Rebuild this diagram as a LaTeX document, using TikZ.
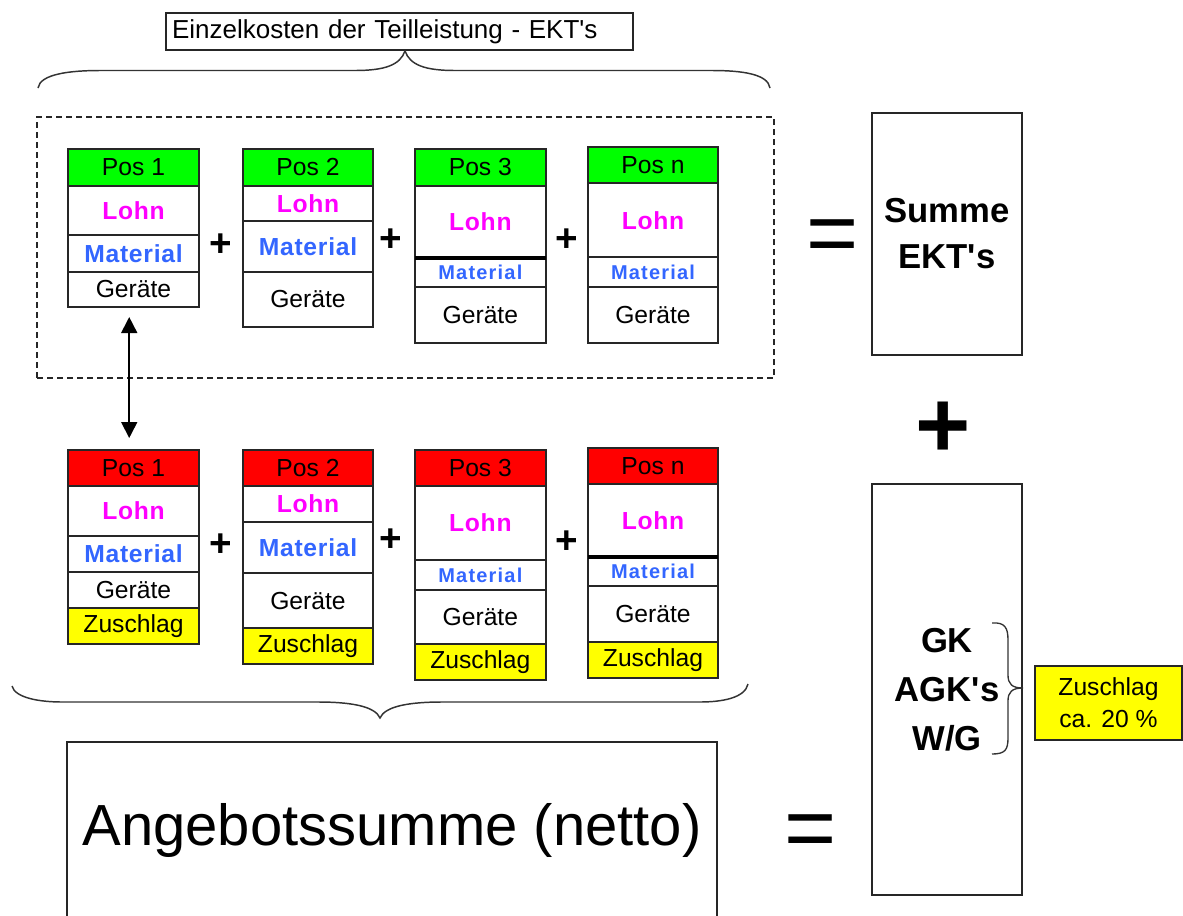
\documentclass[tikz,border=0pt]{standalone}
\usepackage{fontspec}
\setmainfont{Liberation Sans}
\newfontfamily\spfont[LetterSpace=3]{Liberation Sans}
\newfontfamily\spfontb[LetterSpace=6]{Liberation Sans}
\usetikzlibrary{arrows.meta}
\definecolor{lohnc}{RGB}{255,0,255}
\definecolor{matc}{RGB}{51,102,255}
\definecolor{posgreen}{RGB}{0,255,0}
\definecolor{posred}{RGB}{255,0,0}
\definecolor{zuyellow}{RGB}{255,255,0}
\newcommand\txtLohn{{\spfont\bfseries\fontsize{18.5}{20}\selectfont\color{lohnc}Lohn}}
\newcommand\txtMatL{{\spfont\bfseries\fontsize{18.5}{20}\selectfont\color{matc}Material}}
\newcommand\txtMatS{{\spfontb\bfseries\fontsize{15}{17}\selectfont\color{matc}Material}}
\newcommand\cellnode[7]{\node[cellbox, fill=#6, minimum width={(#3-#2)*0.75pt}, minimum height={(#5-#4)*0.75pt}] (#1) at ({(#2+#3)/2},{(#4+#5)/2}) {#7};}
\tikzset{
  cellbox/.style={draw=black!85, line width=1.5pt, inner sep=0pt, outer sep=0pt, text=black, font=\fontsize{18.5}{20}\selectfont},
  plussign/.style={inner sep=0pt, font=\bfseries\fontsize{29}{30}\selectfont},
  bigsign/.style={inner sep=0pt, font=\bfseries\fontsize{71}{72}\selectfont},
  eqsign/.style={inner sep=0pt, font=\fontsize{67}{68}\selectfont},
  bigbox/.style={draw=black!85, line width=1.1pt, inner sep=0pt, outer sep=0pt, align=center},
  bracepath/.style={draw=black!80, line width=1.1pt},
}
\begin{document}
\begin{tikzpicture}[x=0.75pt,y=-0.75pt]
\useasboundingbox (0,0) rectangle (1183,915);
\fill[white] (0,0) rectangle (1183,915);

% title
\node[draw=black!85, line width=1.1pt, minimum width=350.25pt, minimum height=27.75pt, text width=341.25pt, inner xsep=4.5pt, align=left, font=\fontsize{19.5}{21}\selectfont] (title) at (399.5,31.5) {Einzelkosten der Teilleistung - EKT\textquotesingle s};

% top brace
\draw[bracepath] (38,88) .. controls (40,74) and (70,70.5) .. (100,70.5) -- (355,70.5) .. controls (385,70.5) and (400,65) .. (405,51) .. controls (410,65) and (425,70.5) .. (455,70.5) -- (712,70.5) .. controls (742,70.5) and (768,74) .. (770,88);

% dashed group
\node[draw=black!85, dashed, dash pattern=on 4.5pt off 3pt, line width=1.2pt, minimum width={737*0.75pt}, minimum height={261*0.75pt}, inner sep=0pt] (ektgroup) at (405.5,247.5) {};

% top row
\cellnode{t1h}{68}{199}{149}{185.7}{posgreen}{Pos 1}
\cellnode{t1l}{68}{199}{185.7}{235}{white}{\txtLohn}
\cellnode{t1m}{68}{199}{235}{271.7}{white}{\txtMatL}
\cellnode{t1g}{68}{199}{271.7}{307.3}{white}{Geräte}

\cellnode{t2h}{243}{373}{149}{185.7}{posgreen}{Pos 2}
\cellnode{t2l}{243}{373}{185.7}{221}{white}{\txtLohn}
\cellnode{t2m}{243}{373}{221}{271.7}{white}{\txtMatL}
\cellnode{t2g}{243}{373}{271.7}{327.3}{white}{Geräte}

\cellnode{t3h}{415}{545.7}{149}{185.7}{posgreen}{Pos 3}
\cellnode{t3l}{415}{545.7}{185.7}{258.3}{white}{\txtLohn}
\cellnode{t3m}{415}{545.7}{258.3}{286.7}{white}{\txtMatS}
\cellnode{t3g}{415}{545.7}{286.7}{343.3}{white}{Geräte}
\draw[line width=3pt] (t3l.south west) -- (t3l.south east);

\cellnode{tnh}{588}{718}{146.7}{183.3}{posgreen}{Pos n}
\cellnode{tnl}{588}{718}{183.3}{257.3}{white}{\txtLohn}
\cellnode{tnm}{588}{718}{257.3}{287.3}{white}{\txtMatS}
\cellnode{tng}{588}{718}{287.3}{343.3}{white}{Geräte}

\node[plussign] (tp1) at (221,245) {+};
\node[plussign] (tp2) at (391,240) {+};
\node[plussign] (tp3) at (567,240) {+};

% bottom row
\cellnode{b1h}{68}{199}{450}{486}{posred}{Pos 1}
\cellnode{b1l}{68}{199}{486}{536}{white}{\txtLohn}
\cellnode{b1m}{68}{199}{536}{572.3}{white}{\txtMatL}
\cellnode{b1g}{68}{199}{572.3}{608.3}{white}{Geräte}
\cellnode{b1z}{68}{199}{608.3}{644.3}{zuyellow}{Zuschlag}

\cellnode{b2h}{243}{373}{450}{486}{posred}{Pos 2}
\cellnode{b2l}{243}{373}{486}{521.7}{white}{\txtLohn}
\cellnode{b2m}{243}{373}{521.7}{572.7}{white}{\txtMatL}
\cellnode{b2g}{243}{373}{572.7}{628.3}{white}{Geräte}
\cellnode{b2z}{243}{373}{628.3}{664.3}{zuyellow}{Zuschlag}

\cellnode{b3h}{415}{545.7}{450}{486}{posred}{Pos 3}
\cellnode{b3l}{415}{545.7}{486}{560}{white}{\txtLohn}
\cellnode{b3m}{415}{545.7}{560}{590}{white}{\txtMatS}
\cellnode{b3g}{415}{545.7}{590}{644}{white}{Geräte}
\cellnode{b3z}{415}{545.7}{644}{680}{zuyellow}{Zuschlag}

\cellnode{bnh}{588}{718}{448.3}{484.3}{posred}{Pos n}
\cellnode{bnl}{588}{718}{484.3}{556.7}{white}{\txtLohn}
\cellnode{bnm}{588}{718}{556.7}{586}{white}{\txtMatS}
\cellnode{bng}{588}{718}{586}{642.3}{white}{Geräte}
\cellnode{bnz}{588}{718}{642.3}{678.3}{zuyellow}{Zuschlag}
\draw[line width=3pt] (bnl.south west) -- (bnl.south east);

\node[plussign] (bp1) at (221,545) {+};
\node[plussign] (bp2) at (391,540) {+};
\node[plussign] (bp3) at (567,542) {+};

% double arrow
\draw[{Triangle[length=12pt,width=12pt]}-{Triangle[length=12pt,width=12pt]}, line width=1.3pt, shorten <=7.3pt, shorten >=9pt] ([xshift=-3.2pt]t1g.south) -- ([xshift=-3.2pt]b1h.north);

% bottom brace
\draw[bracepath] (12,686) .. controls (15,698) and (40,702) .. (62,702) -- (318,702) .. controls (350,702) and (375,706) .. (380,718) .. controls (385,706) and (410,702) .. (442,702) -- (700,702) .. controls (722,702) and (745,698) .. (748,684);

% right side
\node[bigbox, minimum width={150*0.75pt}, minimum height={242*0.75pt}, font=\bfseries\fontsize{26}{34.5}\selectfont] (summe) at (947,234) {Summe\\EKT\textquotesingle s};
\node[eqsign] (eqtop) at (832.5,241.5) {=};
\node[bigsign] (plusbig) at (943,430) {+};
\node[bigbox, minimum width={150*0.75pt}, minimum height={411*0.75pt}, font=\bfseries\fontsize{26}{36.75}\selectfont] (gk) at (947,689.5) {GK\\AGK\textquotesingle s\\W/G};
\draw[draw=black!80, line width=1pt] (992,623) .. controls (1005,622) and (1008,628) .. (1008,640) -- (1008,675) .. controls (1008,684) and (1012,688) .. (1023,688) .. controls (1012,688) and (1008,692) .. (1008,701) -- (1008,738) .. controls (1008,750) and (1005,754) .. (992,754);
\node[draw=black!85, fill=zuyellow, line width=1.1pt, inner sep=0pt, minimum width={147*0.75pt}, minimum height={74*0.75pt}, align=center, font=\fontsize{18.5}{24}\selectfont] (zu) at (1108.5,703) {Zuschlag\\ca. 20 \%};

% bottom
\node[bigbox, minimum width={650*0.75pt}, minimum height={176*0.75pt}, font=\fontsize{43.5}{46}\selectfont] (ang) at (392,830) {Angebotssumme (netto)};
\node[eqsign] (eqbot) at (811,836.5) {=};
\end{tikzpicture}
\end{document}
